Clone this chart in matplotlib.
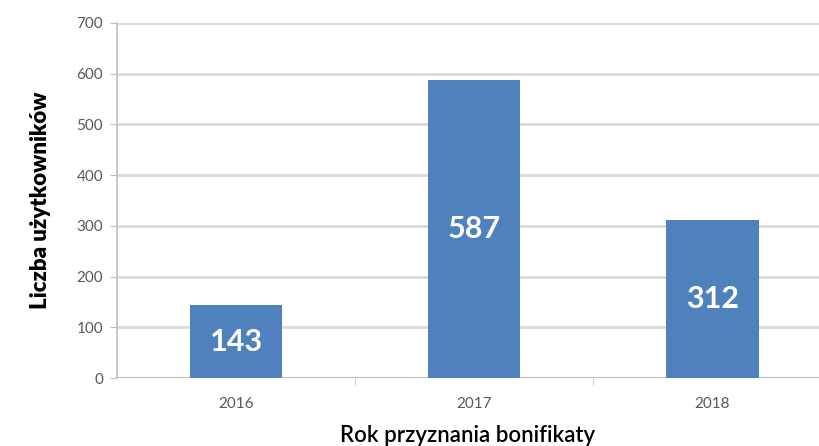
import matplotlib.pyplot as plt

lata = ["2016", "2017", "2018"]
uzytkownicy = [143, 587, 312]
yticks = [0, 100, 200, 300, 400, 500, 600, 700]

plt.rcParams['font.family'] = ['Lato', 'DejaVu Sans']

fig = plt.figure(figsize=(8.19, 4.46), dpi=100)
ax = fig.add_axes([117 / 819, 68 / 446, 702 / 819, 355 / 446])

x = range(len(lata))
bars = ax.bar(x, uzytkownicy, width=0.39, color="#4F81BD", zorder=3)

# etykiety wartości w środku słupków
for b, v in zip(bars, uzytkownicy):
    ax.text(b.get_x() + b.get_width() / 2, v / 2, str(v), ha="center", va="center",
            color="white", fontsize=22, fontweight="bold", zorder=4)

ax.set_xlim(-0.5, 2.449)
ax.set_ylim(0, 700)
ax.set_yticks(yticks)
ax.set_xticks(list(x))
ax.set_xticklabels(lata)
ax.set_xticks([0.5, 1.5], minor=True)

ax.grid(axis="y", color="#d9d9d9", linewidth=2, zorder=0)
for s in ["top", "right", "bottom"]:
    ax.spines[s].set_visible(False)
ax.spines["left"].set_color("#bfbfbf")
ax.spines["left"].set_linewidth(1.2)
ax.axhline(0, color="#bfbfbf", linewidth=1.5, zorder=2)

ax.tick_params(axis="y", length=5, color="#bfbfbf", labelsize=11, labelcolor="#595959", pad=5)
ax.tick_params(axis="x", which="major", length=0, labelsize=11, labelcolor="#595959", pad=14)
ax.tick_params(axis="x", which="minor", length=5, color="#bfbfbf")

ax.set_ylabel("Liczba użytkowników", fontsize=16, fontweight="heavy", labelpad=18)
ax.set_xlabel("Rok przyznania bonifikaty", fontsize=16, fontweight="semibold", labelpad=10)

fig.savefig("out.png", dpi=100)
